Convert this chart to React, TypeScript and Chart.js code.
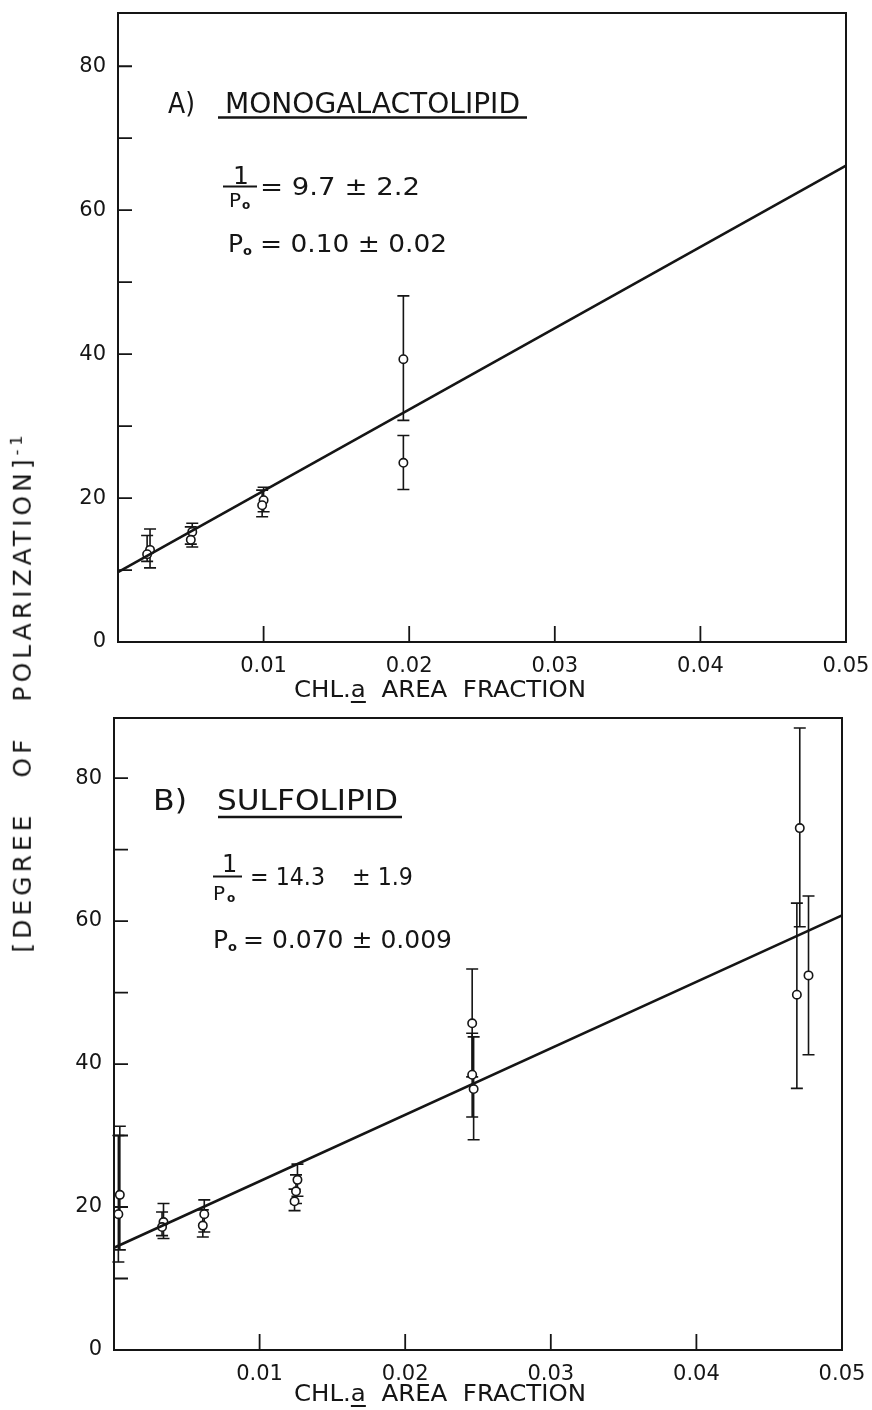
import React, { useEffect, useRef } from 'react';
import { Chart, registerables } from 'chart.js';
Chart.register(...registerables);

// ---------- shared axes ----------
const xTickValues = [0, 0.01, 0.02, 0.03, 0.04, 0.05];
const xTickLabels = ['', '0.01', '0.02', '0.03', '0.04', '0.05'];
const yTickValues = [0, 10, 20, 30, 40, 50, 60, 70, 80];
const yTickLabels = ['0', '', '20', '', '40', '', '60', '', '80'];
const fitX = [0, 0.05];

// ---------- panel A: monogalactolipid ----------
const aX = [0.0022, 0.002, 0.0051, 0.005, 0.01, 0.0099, 0.0196, 0.0196];
const aY = [12.8, 12.2, 15.3, 14.2, 19.7, 19.0, 39.3, 24.9];
const aLow = [10.3, 11.2, 13.2, 13.6, 18.1, 17.4, 30.8, 21.2];
const aHigh = [15.7, 14.8, 16.5, 16.0, 21.5, 21.1, 48.1, 28.7];
const aFitY = [9.7, 66.2];

// ---------- panel B: sulfolipid ----------
const bX = [0.0004, 0.0003, 0.0034, 0.0033, 0.0062, 0.0061, 0.0126, 0.0125, 0.0124, 0.0246, 0.0246, 0.0247, 0.0471, 0.0469, 0.0477];
const bY = [21.7, 19.0, 17.9, 17.2, 19.0, 17.4, 23.8, 22.2, 20.8, 45.7, 38.5, 36.5, 73.0, 49.7, 52.4];
const bLow = [14.0, 12.3, 15.6, 16.0, 16.5, 15.8, 21.5, 20.5, 19.5, 38.2, 32.6, 29.4, 59.2, 36.6, 41.3];
const bHigh = [31.3, 30.0, 20.5, 19.3, 21.0, 19.6, 26.0, 24.5, 22.5, 53.3, 44.3, 43.8, 87.0, 62.5, 63.5];
const bFitY = [14.3, 60.8];

const FONT = '"DejaVu Sans", sans-serif';
const INK = '#151515';

type TextItem = { t: string; x: number; y: number; s: number; w?: number; bold?: boolean };
type LineItem = { x1: number; x2: number; y: number; lw: number };

type Panel = {
  xs: number[]; ys: number[]; lo: number[]; hi: number[]; fit: number[];
  yMax: number; width: number; height: number;
  left: number; right: number; top: number; bottom: number;
  texts: TextItem[]; lines: LineItem[]; titleY: number;
};

function drawText(ctx: CanvasRenderingContext2D, it: TextItem) {
  ctx.font = `${it.bold ? 'bold ' : ''}${it.s}px ${FONT}`;
  ctx.textAlign = 'left';
  ctx.textBaseline = 'alphabetic';
  if (it.w) {
    const m = ctx.measureText(it.t).width;
    ctx.save();
    ctx.translate(it.x, it.y);
    ctx.scale(it.w / m, 1);
    ctx.fillText(it.t, 0, 0);
    ctx.restore();
  } else {
    ctx.fillText(it.t, it.x, it.y);
  }
}

function makeDeco(p: Panel) {
  return {
    id: 'deco',
    beforeDatasetsDraw(chart: any) {
      const { ctx, scales } = chart;
      const x = scales.x, y = scales.y;
      ctx.save();
      ctx.strokeStyle = INK;
      ctx.lineWidth = 1.6;
      p.xs.forEach((xv, i) => {
        const px = x.getPixelForValue(xv);
        const lo = y.getPixelForValue(p.lo[i]);
        const hi = y.getPixelForValue(p.hi[i]);
        ctx.beginPath();
        ctx.moveTo(px, lo); ctx.lineTo(px, hi);
        ctx.moveTo(px - 6, lo); ctx.lineTo(px + 6, lo);
        ctx.moveTo(px - 6, hi); ctx.lineTo(px + 6, hi);
        ctx.stroke();
      });
      ctx.restore();
    },
    afterDraw(chart: any) {
      const { ctx, chartArea: ca, scales } = chart;
      const x = scales.x, y = scales.y;
      ctx.save();
      ctx.strokeStyle = INK;
      ctx.fillStyle = INK;
      ctx.lineWidth = 2;
      ctx.strokeRect(ca.left, ca.top, ca.right - ca.left, ca.bottom - ca.top);
      ctx.lineWidth = 1.8;
      ctx.beginPath();
      yTickValues.forEach((v) => {
        if (v === 0) return;
        const py = y.getPixelForValue(v);
        ctx.moveTo(ca.left, py); ctx.lineTo(ca.left + 14, py);
      });
      xTickValues.forEach((v) => {
        if (v === 0 || v === 0.05) return;
        const px = x.getPixelForValue(v);
        ctx.moveTo(px, ca.bottom); ctx.lineTo(px, ca.bottom - 16);
      });
      ctx.stroke();
      p.texts.forEach((it) => drawText(ctx, it));
      p.lines.forEach((l) => {
        ctx.lineWidth = l.lw;
        ctx.beginPath(); ctx.moveTo(l.x1, l.y); ctx.lineTo(l.x2, l.y); ctx.stroke();
      });
      // x axis title with underlined "a"
      const size = 23;
      ctx.font = `${size}px ${FONT}`;
      const parts = ['CHL.', 'a', '  AREA  FRACTION'];
      const widths = parts.map((s) => ctx.measureText(s).width);
      const total = widths.reduce((a, b) => a + b, 0);
      const target = 292;
      const sc = target / total;
      let cx = 440 - target / 2;
      parts.forEach((s, i) => {
        ctx.save();
        ctx.translate(cx, p.titleY);
        ctx.scale(sc, 1);
        ctx.fillText(s, 0, 0);
        ctx.restore();
        if (i === 1) {
          ctx.lineWidth = 2;
          ctx.beginPath();
          ctx.moveTo(cx, p.titleY + 5); ctx.lineTo(cx + widths[i] * sc, p.titleY + 5);
          ctx.stroke();
        }
        cx += widths[i] * sc;
      });
      ctx.restore();
    },
  };
}

function PanelChart({ p, top }: { p: Panel; top: number }) {
  const ref = useRef<HTMLCanvasElement | null>(null);
  useEffect(() => {
    if (!ref.current) return;
    const chart = new Chart(ref.current, {
      type: 'scatter',
      data: {
        datasets: [
          {
            type: 'line' as any,
            data: fitX.map((xv, i) => ({ x: xv, y: p.fit[i] })),
            borderColor: INK,
            borderWidth: 2.6,
            pointRadius: 0,
            fill: false,
            clip: false as any,
          },
          {
            data: p.xs.map((xv, i) => ({ x: xv, y: p.ys[i] })),
            pointRadius: 4.2,
            pointBorderWidth: 1.6,
            pointBackgroundColor: '#ffffff',
            pointBorderColor: INK,
            clip: false as any,
          },
        ],
      },
      options: {
        responsive: false,
        animation: false,
        devicePixelRatio: 1,
        layout: { padding: { top: p.top, right: p.width - p.right, left: 0, bottom: 0 } },
        plugins: { legend: { display: false }, tooltip: { enabled: false }, title: { display: false } },
        scales: {
          x: {
            type: 'linear',
            min: 0,
            max: 0.05,
            grid: { display: false },
            border: { display: false },
            afterBuildTicks: (s: any) => { s.ticks = xTickValues.map((v) => ({ value: v })); },
            afterFit: (s: any) => {
              s.height = p.height - p.bottom;
              s.paddingLeft = 0; s.paddingRight = 0;
            },
            ticks: {
              callback: (_v: any, i: number) => xTickLabels[i],
              font: { family: FONT, size: 21 },
              color: INK,
              padding: 4,
              maxRotation: 0,
              autoSkip: false,
            },
          },
          y: {
            type: 'linear',
            min: 0,
            max: p.yMax,
            grid: { display: false },
            border: { display: false },
            afterBuildTicks: (s: any) => { s.ticks = yTickValues.map((v) => ({ value: v })); },
            afterFit: (s: any) => {
              s.width = p.left;
              s.paddingTop = 0; s.paddingBottom = 0;
            },
            ticks: {
              callback: (_v: any, i: number) => yTickLabels[i],
              font: { family: FONT, size: 21 },
              color: INK,
              padding: 4,
              autoSkip: false,
            },
          },
        },
      },
      plugins: [makeDeco(p)],
    });
    return () => chart.destroy();
  }, [p]);
  return (
    <canvas
      ref={ref}
      width={p.width}
      height={p.height}
      style={{ position: 'absolute', left: 0, top, width: p.width, height: p.height }}
    />
  );
}

const H = 705;
const OFF = 705;

const panelA: Panel = {
  xs: aX, ys: aY, lo: aLow, hi: aHigh, fit: aFitY,
  yMax: 87.4, width: 872, height: H,
  left: 118, right: 846, top: 13, bottom: 642,
  titleY: 697,
  texts: [
    { t: 'A)', x: 168, y: 113, s: 28, w: 27 },
    { t: 'MONOGALACTOLIPID', x: 225, y: 113, s: 28, w: 295 },
    { t: '1', x: 233, y: 184, s: 25 },
    { t: 'P', x: 229, y: 207, s: 20 },
    { t: 'o', x: 242, y: 209, s: 12, bold: true },
    { t: '= 9.7 ± 2.2', x: 260, y: 195, s: 25, w: 160 },
    { t: 'P', x: 228, y: 252, s: 25 },
    { t: 'o', x: 243, y: 255, s: 13, bold: true },
    { t: '= 0.10 ± 0.02', x: 260, y: 252, s: 25, w: 187 },
  ],
  lines: [
    { x1: 218, x2: 527, y: 117.5, lw: 2.5 },
    { x1: 223, x2: 257, y: 186.5, lw: 2 },
  ],
};

const panelB: Panel = {
  xs: bX, ys: bY, lo: bLow, hi: bHigh, fit: bFitY,
  yMax: 88.4, width: 872, height: H,
  left: 114, right: 842, top: 718 - OFF, bottom: 1350 - OFF,
  titleY: 1401 - OFF,
  texts: [
    { t: 'B)', x: 153, y: 810 - OFF, s: 28, w: 34 },
    { t: 'SULFOLIPID', x: 217, y: 810 - OFF, s: 28, w: 181 },
    { t: '1', x: 222, y: 872 - OFF, s: 24 },
    { t: 'P', x: 213, y: 900 - OFF, s: 20 },
    { t: 'o', x: 227, y: 902 - OFF, s: 12, bold: true },
    { t: '= 14.3', x: 250, y: 885 - OFF, s: 25, w: 75 },
    { t: '± 1.9', x: 352, y: 885 - OFF, s: 25, w: 61 },
    { t: 'P', x: 213, y: 948 - OFF, s: 25 },
    { t: 'o', x: 228, y: 951 - OFF, s: 13, bold: true },
    { t: '= 0.070 ± 0.009', x: 243, y: 948 - OFF, s: 25, w: 209 },
  ],
  lines: [
    { x1: 218, x2: 402, y: 817 - OFF, lw: 2.5 },
    { x1: 213, x2: 242, y: 876.5 - OFF, lw: 2 },
  ],
};

export default function App() {
  return (
    <div style={{ position: 'absolute', left: 0, top: 0, width: 872, height: 1410, background: '#fff', overflow: 'hidden' }}>
      <PanelChart p={panelA} top={0} />
      <PanelChart p={panelB} top={OFF} />
      <div
        style={{
          position: 'absolute',
          left: 22,
          top: 692,
          transform: 'translate(-50%, -50%) rotate(-90deg)',
          whiteSpace: 'nowrap',
          fontFamily: FONT,
          fontSize: 25,
          letterSpacing: 4,
          wordSpacing: 22,
          color: INK,
        }}
      >
        [DEGREE OF POLARIZATION]<sup style={{ fontSize: 16 }}>-1</sup>
      </div>
    </div>
  );
}
